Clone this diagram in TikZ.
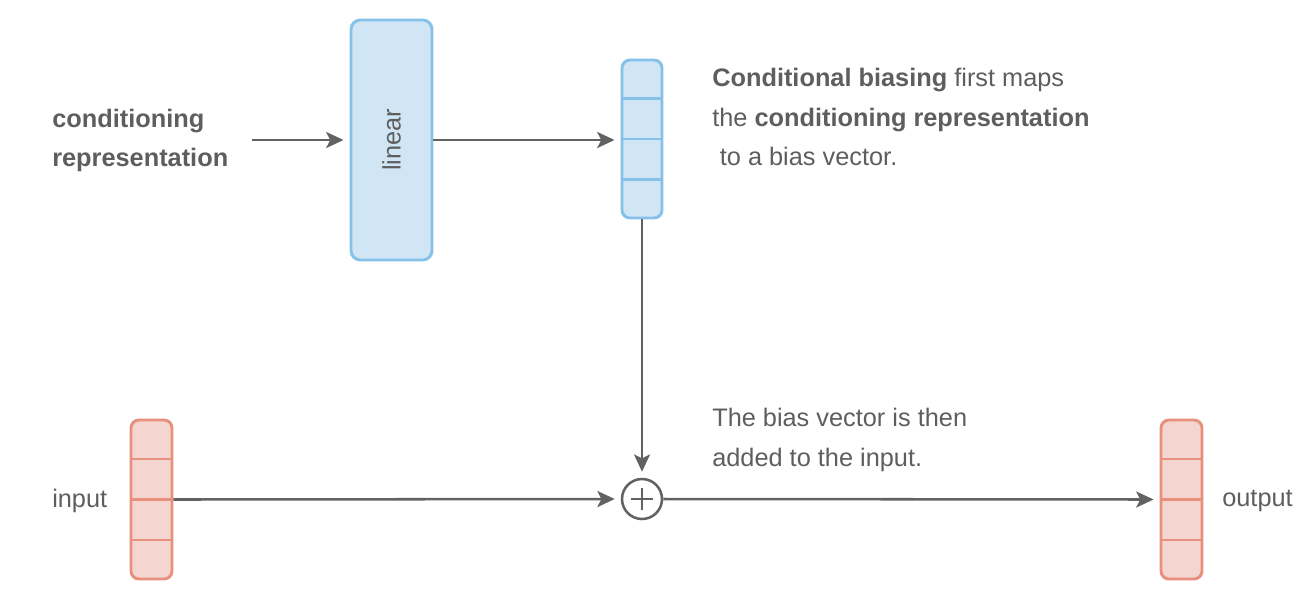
\documentclass[tikz,border=0pt]{standalone}
\usepackage{fontspec}
\setmainfont{Liberation Sans}
\usetikzlibrary{arrows.meta,calc}
\definecolor{txt}{HTML}{5E5E5E}
\definecolor{arr}{HTML}{626262}
\definecolor{bfill}{HTML}{D0E6F5}
\definecolor{bline}{HTML}{85C1E9}
\definecolor{rfill}{HTML}{F5D5CF}
\definecolor{rline}{HTML}{E8907E}
\tikzset{
  lbl/.style={text=txt,inner sep=0pt,font=\fontsize{19}{29.5}\selectfont,align=left},
  conn/.style={draw=arr,line width=1.9pt,shorten >=4.5pt,-{Stealth[length=13pt,width=12pt,inset=3pt]}},
  bluebox/.style={draw=bline,fill=bfill,line width=2.2pt,rounded corners=7pt},
  vecblue/.style={draw=bline,fill=bfill,line width=2.2pt,rounded corners=6pt,minimum width=30pt,minimum height=118.5pt,inner sep=0pt},
  vecred/.style={draw=rline,fill=rfill,line width=2.2pt,rounded corners=6pt,minimum width=30.75pt,minimum height=119.25pt,inner sep=0pt},
  plusnode/.style={circle,draw=arr,line width=1.9pt,minimum size=30pt,inner sep=0pt},
  divblue/.style={draw=bline,line width=2.2pt},
  divred/.style={draw=rline,line width=2.2pt}
}
\newcommand{\vecdiv}[2]{%
  \foreach \f in {0.25,0.5,0.75}{%
    \path[#2] ($(#1.north west)!\f!(#1.south west)$) -- ($(#1.north east)!\f!(#1.south east)$);}}
\begin{document}
\begin{tikzpicture}[x=0.75pt,y=-0.75pt]
\useasboundingbox (0,0) rectangle (1308,608);
% boxes
\node[bluebox,minimum width=60.75pt,minimum height=180pt,inner sep=0pt] (lin) at (391.5,140) {};
\node[lbl,rotate=90] (lintxt) at (391.5,140) {linear};
\node[vecblue] (bias) at (642,139) {};
\vecdiv{bias}{divblue}
\node[vecred] (in) at (151.5,499.5) {};
\vecdiv{in}{divred}
\node[vecred] (out) at (1181.5,499.5) {};
\vecdiv{out}{divred}
\node[plusnode] (plus) at (642,499) {};
\draw[arr,line width=1.9pt] ($(plus.center)+(-11,0)$) -- ($(plus.center)+(11,0)$);
\draw[arr,line width=1.9pt] ($(plus.center)+(0,-11)$) -- ($(plus.center)+(0,11)$);
% labels
\node[lbl,anchor=west] (cond) at (52,140.5) {\textbf{conditioning}\\\textbf{representation}};
\node[lbl,anchor=west] (desc1) at (712,117) {\textbf{Conditional biasing} first maps\\the \textbf{conditioning representation}\\\hspace*{0.3em}to a bias vector.};
\node[lbl,anchor=west] (desc2) at (712,440) {The bias vector is then\\added to the input.};
\node[lbl,anchor=west] (intxt) at (52,501) {input};
\node[lbl,anchor=west] (outtxt) at (1222,501) {output};
\coordinate (condend) at (252,140);
% connectors
\draw[conn] (condend) -- (lin.west |- condend);
\draw[conn] (lin.east |- condend) -- (bias.west |- condend);
\draw[conn] (bias.south) -- (plus.north);
\draw[conn] (in.east) -- (plus.west);
\draw[conn] (plus.east) -- (out.west);
\end{tikzpicture}
\end{document}
